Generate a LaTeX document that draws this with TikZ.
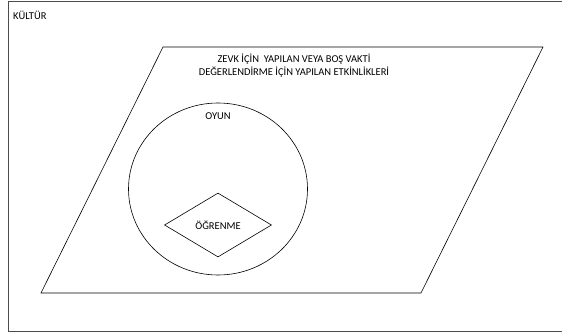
\documentclass[tikz,border=0pt]{standalone}
\usepackage{fontspec}
\setmainfont{Carlito}
\usetikzlibrary{shapes.geometric}

\begin{document}
\begin{tikzpicture}[
  x=1pt, y=-1pt,
  font=\fontsize{10.5}{13}\selectfont,
  label/.style={inner sep=0pt, align=center},
  frame/.style={draw=black!70, line width=0.8pt},
  outline/.style={draw=black, line width=0.6pt}
]
  \useasboundingbox (0,0) rectangle (562,334);

  % outer frame
  \draw[frame] (8,1) rectangle (570,331);
  \node[label, anchor=west] (kultur) at (13,15) {KÜLTÜR};

  % parallelogram
  \coordinate (pTL) at (163,47);
  \coordinate (pTR) at (543,47);
  \coordinate (pBR) at (421,293);
  \coordinate (pBL) at (41,293);
  \draw[outline] (pTL) -- (pTR) -- (pBR) -- (pBL) -- cycle;
  \node[label] (etkinlik) at (294,66)
    {ZEVK İÇİN \ YAPILAN VEYA BOŞ VAKTİ\\DEĞERLENDİRME İÇİN YAPILAN ETKİNLİKLERİ};

  % circle
  \node[outline, ellipse, minimum width=179pt, minimum height=172pt, inner sep=0pt] (oyunCircle) at (218,189) {};
  \node[label] (oyun) at (218,116) {OYUN};

  % diamond
  \node[outline, diamond, aspect=1.67, minimum width=107pt, minimum height=64pt, inner sep=0pt] (ogrenme) at (218,225) {ÖĞRENME};
\end{tikzpicture}
\end{document}
